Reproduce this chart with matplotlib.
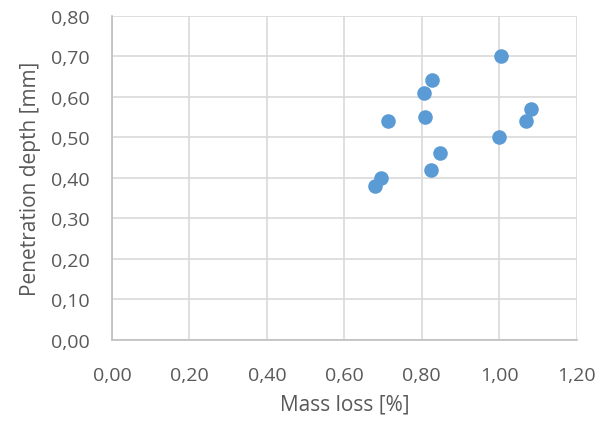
import matplotlib
matplotlib.use("Agg")
import matplotlib.pyplot as plt
from matplotlib.ticker import FuncFormatter, MultipleLocator

mass_loss = [0.678, 0.695, 0.712, 0.807, 0.826, 0.809, 0.824, 0.847, 1.005, 1.000, 1.068, 1.083]
penetration = [0.38, 0.40, 0.54, 0.61, 0.64, 0.55, 0.42, 0.46, 0.70, 0.50, 0.54, 0.57]

plt.rcParams['font.family'] = ['Open Sans', 'DejaVu Sans']
text_color = '#595959'

fig = plt.figure(figsize=(6.11, 4.27), dpi=100)
ax = fig.add_axes([0.1833, 0.2021, 0.9438 - 0.1833, 0.961 - 0.2021])
ax.scatter(mass_loss, penetration, s=110, color='#5B9BD5', zorder=3, linewidths=0)

ax.set_xlim(0, 1.2)
ax.set_ylim(0, 0.8)
ax.xaxis.set_major_locator(MultipleLocator(0.2))
ax.yaxis.set_major_locator(MultipleLocator(0.1))
fmt = FuncFormatter(lambda v, p: f"{v:.2f}".replace('.', ','))
ax.xaxis.set_major_formatter(fmt)
ax.yaxis.set_major_formatter(fmt)
ax.grid(True, color='#D9D9D9', linewidth=1.2, zorder=0)
ax.set_axisbelow(True)
for s in ['top', 'right']:
    ax.spines[s].set_visible(False)
for s in ['left', 'bottom']:
    ax.spines[s].set_color('#BFBFBF')
    ax.spines[s].set_linewidth(1.2)
ax.tick_params(length=0, labelsize=14, colors=text_color)
ax.tick_params(axis='x', pad=19)
ax.tick_params(axis='y', pad=16)
ax.set_xlabel('Mass loss [%]', fontsize=15, color=text_color, labelpad=7)
ax.set_ylabel('Penetration depth [mm]', fontsize=15, color=text_color, labelpad=7)

fig.savefig('out.png', dpi=100)
